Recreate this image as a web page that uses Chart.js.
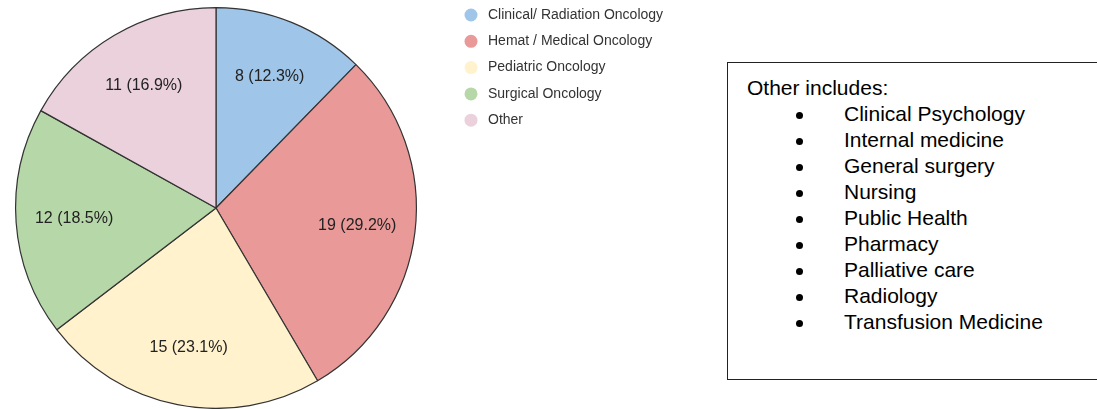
<!DOCTYPE html>
<html>
<head>
<meta charset="utf-8">
<script src="https://cdn.jsdelivr.net/npm/chart.js@4"></script>
<style>
  html, body { margin: 0; padding: 0; background: #fff; }
  body { width: 1097px; height: 409px; position: relative; overflow: hidden; font-family: "Liberation Sans", Arial, sans-serif; }
  #chart-wrap { position: absolute; left: 0; top: 0; width: 720px; height: 409px; }
  #note {
    position: absolute; left: 727px; top: 62px; width: 400px; height: 318px;
    border: 1.5px solid #222; box-sizing: border-box;
    padding: 12px 0 0 19px; color: #000; font-size: 21px; line-height: 26px;
  }
  #note ul { list-style: none; margin: 0; padding: 0; }
  #note li { position: relative; padding-left: 97px; }
  #note li::before {
    content: ""; position: absolute; left: 49px; top: 11px;
    width: 7px; height: 7px; border-radius: 50%; background: #000;
  }
</style>
</head>
<body>
<div id="chart-wrap"><canvas id="pie-chart"></canvas></div>
<div id="note">
  <div>Other includes:</div>
  <ul id="other-list"></ul>
</div>
<script>
const categories = ['Clinical/ Radiation Oncology', 'Hemat / Medical Oncology', 'Pediatric Oncology', 'Surgical Oncology', 'Other'];
const counts = [8, 19, 15, 12, 11];
const colors = ['#9fc5e8', '#ea9999', '#fff2cc', '#b6d7a8', '#ead1dc'];
const otherItems = ['Clinical Psychology', 'Internal medicine', 'General surgery', 'Nursing', 'Public Health', 'Pharmacy', 'Palliative care', 'Radiology', 'Transfusion Medicine'];

const list = document.getElementById('other-list');
otherItems.forEach(function(t) {
    const li = document.createElement('li');
    li.textContent = t;
    list.appendChild(li);
});

// value labels inside the slices: "n (p%)"
const sliceLabels = {
    id: 'sliceLabels',
    afterDatasetsDraw(chart) {
        const ctx = chart.ctx;
        const data = chart.data.datasets[0].data;
        const total = data.reduce((a, b) => a + b, 0);
        ctx.save();
        ctx.font = '16px "Liberation Sans", Arial, sans-serif';
        ctx.fillStyle = '#222';
        ctx.textAlign = 'center';
        ctx.textBaseline = 'middle';
        chart.getDatasetMeta(0).data.forEach(function(arc, i) {
            const p = arc.getProps(['x', 'y', 'startAngle', 'endAngle', 'outerRadius'], true);
            const mid = (p.startAngle + p.endAngle) / 2;
            const r = p.outerRadius * 0.71;
            const pct = (data[i] / total * 100).toFixed(1);
            ctx.fillText(data[i] + ' (' + pct + '%)', p.x + Math.cos(mid) * r, p.y + Math.sin(mid) * r);
        });
        ctx.restore();
    }
};

// legend to the right of the pie
const sideLegend = {
    id: 'sideLegend',
    afterDraw(chart) {
        const ctx = chart.ctx;
        const x = 471, y0 = 15, step = 26.3;
        ctx.save();
        ctx.font = '14px "Liberation Sans", Arial, sans-serif';
        ctx.textBaseline = 'middle';
        chart.data.labels.forEach(function(label, i) {
            const y = y0 + i * step;
            ctx.beginPath();
            ctx.arc(x, y, 6.5, 0, Math.PI * 2);
            ctx.fillStyle = chart.data.datasets[0].backgroundColor[i];
            ctx.fill();
            ctx.fillStyle = '#333';
            ctx.fillText(label, x + 17, y);
        });
        ctx.restore();
    }
};

window.onload = function() {
    const ctx = document.getElementById('pie-chart').getContext('2d');
    new Chart(ctx, {
        type: 'pie',
        data: {
            labels: categories,
            datasets: [{
                data: counts,
                backgroundColor: colors,
                borderColor: '#333',
                borderWidth: 1.2
            }]
        },
        options: {
            responsive: true,
            maintainAspectRatio: false,
            animation: false,
            layout: { padding: { left: 15, top: 7, right: 303, bottom: 0 } },
            plugins: {
                legend: { display: false },
                tooltip: { enabled: false }
            }
        },
        plugins: [sliceLabels, sideLegend]
    });
};
</script>
</body>
</html>
